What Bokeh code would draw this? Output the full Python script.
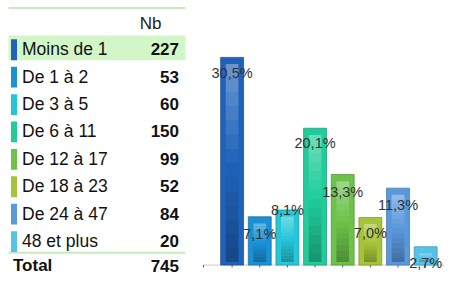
from bokeh.plotting import figure
from bokeh.models import Range1d, ColumnDataSource
from bokeh.layouts import row
from bokeh.core.properties import value
from bokeh.embed import file_html
from bokeh.resources import INLINE

# ---------------- data ----------------
categories = ["Moins de 1", "De 1 à 2", "De 3 à 5", "De 6 à 11",
              "De 12 à 17", "De 18 à 23", "De 24 à 47", "48 et plus"]
counts = [227, 53, 60, 150, 99, 52, 84, 20]
total_label = "Total"
header_label = "Nb"
colors = ["#1f62b9", "#1a90d5", "#25c6d8", "#20cc9a",
          "#6cc24a", "#a6c43a", "#5a98dc", "#55c3e8"]

total = sum(counts)
percents = [round(c / total * 100, 1) for c in counts]
pct_labels = [f"{p:.1f}".replace(".", ",") + "%" for p in percents]

FONT = value("Liberation Sans")


def mix(c, other, t):
    c = c.lstrip("#"); o = other.lstrip("#")
    a = [int(c[i:i + 2], 16) for i in (0, 2, 4)]
    b = [int(o[i:i + 2], 16) for i in (0, 2, 4)]
    m = [round(a[k] * (1 - t) + b[k] * t) for k in range(3)]
    return "#%02x%02x%02x" % tuple(m)


# ---------------- table (left) ----------------
W_T, H = 198, 276
ROW0, ROWH = 48.7, 27.4
tab = figure(width=W_T, height=H, output_backend="svg", toolbar_location=None,
             x_range=Range1d(0, W_T),
             y_range=Range1d((H - ROW0) / ROWH, -ROW0 / ROWH),
             min_border=0, outline_line_color=None)
tab.axis.visible = False
tab.grid.visible = False

idx = list(range(len(categories)))
n = len(categories)
TOTAL_ROW = n - 0.09

# highlight of first row
tab.quad(left=[8], right=[185], top=[-0.5], bottom=[0.40],
         fill_color="#d3f6c8", line_color=None)
# separator lines
tab.segment(x0=[8], x1=[185], y0=[-1.5], y1=[-1.5], line_color="#c6ebbb", line_width=2)
tab.segment(x0=[8], x1=[185], y0=[n - 0.57], y1=[n - 0.57], line_color="#c6ebbb", line_width=2)

tsrc = ColumnDataSource(dict(y=idx, cat=categories, cnt=[str(c) for c in counts],
                             col=colors,
                             top=[i - 0.36 for i in idx], bot=[i + 0.40 for i in idx]))
tab.quad(left=10.5, right=16.5, top="top", bottom="bot", fill_color="col", line_color=None, source=tsrc)
tab.text(x=21.5, y="y", text="cat", source=tsrc, text_font=FONT, text_font_size="17.5px",
         text_color="#111111", text_baseline="middle", text_align="left")
tab.text(x=178.5, y="y", text="cnt", source=tsrc, text_font=FONT, text_font_size="17px",
         text_font_style="bold", text_color="#111111", text_baseline="middle", text_align="right")
tab.text(x=[161], y=[-0.92], text=[header_label], text_font=FONT, text_font_size="17px",
         text_color="#222222", text_baseline="middle", text_align="right")
tab.text(x=[12.5], y=[TOTAL_ROW], text=[total_label], text_font=FONT, text_font_size="17px",
         text_font_style="bold", text_color="#111111", text_baseline="middle", text_align="left")
tab.text(x=[178.5], y=[TOTAL_ROW], text=[str(total)], text_font=FONT, text_font_size="17px",
         text_font_style="bold", text_color="#111111", text_baseline="middle", text_align="right")

# ---------------- bar chart (right) ----------------
W_C = 444 - W_T
STEP = 27.65
X0 = 33.6
PXPCT = 6.81
BASE = 264.6
xs_start = -X0 / STEP
chart = figure(width=W_C, height=H, output_backend="svg", toolbar_location=None,
               x_range=Range1d(xs_start, xs_start + W_C / STEP),
               y_range=Range1d(-(H - BASE) / PXPCT, BASE / PXPCT),
               min_border=0, outline_line_color=None)
chart.axis.visible = False
chart.grid.visible = False

# baseline + ticks
chart.segment(x0=[xs_start + 4 / STEP], x1=[xs_start + W_C / STEP], y0=[0], y1=[0],
              line_color="#c9c9c9", line_width=1)
tick_x = [xs_start + 5 / STEP] + idx
chart.segment(x0=tick_x, x1=tick_x, y0=[0] * len(tick_x), y1=[-0.35] * len(tick_x),
              line_color="#555555", line_width=1)

BW = 0.83
bsrc = ColumnDataSource(dict(x=idx, top=percents, col=colors,
                             line=[mix(c, "#000000", 0.25) for c in colors]))
chart.vbar(x="x", top="top", bottom=0, width=BW, fill_color="col",
           line_color="line", line_width=1, line_alpha=0.7, source=bsrc)

# gradient stripe inside each bar
NS = 14
SW = 0.23
for k in range(NS):
    f0, f1 = k / NS, (k + 1) / NS
    fm = (f0 + f1) / 2
    bots, tops, cols = [], [], []
    for i, p in enumerate(percents):
        b, t = 0.45, p - 1.0
        bots.append(b + (t - b) * f0)
        tops.append(b + (t - b) * f1 + 0.02)
        if fm > 0.5:
            cols.append(mix(colors[i], "#ffffff", 0.35 * (fm - 0.5) * 2))
        else:
            cols.append(mix(colors[i], "#000000", 0.28 * (0.5 - fm) * 2))
    chart.quad(left=[i - SW for i in idx], right=[i + SW for i in idx],
               bottom=bots, top=tops, fill_color=cols, line_color=None)

label_offsets = [16, 17, 0, 15, 17, 16, 17, 16]
lsrc = ColumnDataSource(dict(x=idx, y=percents, t=pct_labels, off=label_offsets))
chart.text(x="x", y="y", text="t", y_offset="off", source=lsrc, text_font=FONT,
           text_font_size="14.5px", text_color="#333333",
           text_align="center", text_baseline="middle")

p = row(tab, chart)
open("out.html", "w").write(file_html(p, INLINE))
